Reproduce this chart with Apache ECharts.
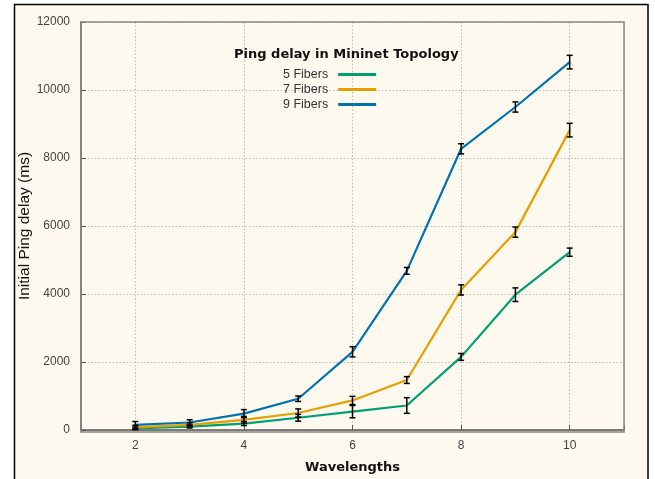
<!DOCTYPE html>
<html><head><meta charset="utf-8">
<script src="https://cdn.jsdelivr.net/npm/echarts@6/dist/echarts.min.js"></script>
<style>html,body{margin:0;padding:0;background:#fff}#c{width:655px;height:479px}</style>
</head><body><div id="c"></div>
<script>
const wavelengths = [2, 3, 4, 5, 6, 7, 8, 9, 10];
const fibers5 = [50, 100, 190, 360, 540, 720, 2150, 3980, 5230];
const fibers7 = [80, 150, 300, 500, 870, 1470, 4120, 5820, 8820];
const fibers9 = [150, 220, 480, 920, 2300, 4680, 8270, 9500, 10820];
const err5 = [40, 40, 60, 100, 180, 230, 100, 200, 120];
const err7 = [60, 60, 100, 120, 120, 100, 150, 150, 200];
const err9 = [100, 80, 120, 80, 150, 100, 150, 150, 200];
const seriesNames = ['5 Fibers', '7 Fibers', '9 Fibers'];
const colors = ['#009e73', '#e69f00', '#0072b2'];

const chart = echarts.init(document.getElementById('c'), null, {renderer: 'canvas'});

function pairs(vals) { return wavelengths.map((w, i) => [w, vals[i]]); }
function errData(vals, errs) { return wavelengths.map((w, i) => [w, vals[i] - errs[i], vals[i] + errs[i]]); }

function errRender(params, api) {
  const lo = api.coord([api.value(0), api.value(1)]);
  const hi = api.coord([api.value(0), api.value(2)]);
  const w = 3;
  const st = {stroke: '#000', lineWidth: 1.5};
  return {type: 'group', children: [
    {type: 'line', shape: {x1: lo[0], y1: lo[1], x2: hi[0], y2: hi[1]}, style: st},
    {type: 'line', shape: {x1: lo[0] - w, y1: lo[1], x2: lo[0] + w, y2: lo[1]}, style: st},
    {type: 'line', shape: {x1: hi[0] - w, y1: hi[1], x2: hi[0] + w, y2: hi[1]}, style: st}
  ]};
}

const valsList = [fibers5, fibers7, fibers9];
const errList = [err5, err7, err9];
const series = [];
valsList.forEach((v, i) => {
  series.push({name: seriesNames[i], type: 'line', data: pairs(v), showSymbol: false, symbol: 'none',
    lineStyle: {color: colors[i], width: 2.2}, itemStyle: {color: colors[i]}, z: 3 + i});
});
valsList.forEach((v, i) => {
  series.push({type: 'custom', renderItem: errRender, data: errData(v, errList[i]), z: 10,
    encode: {x: 0, y: [1, 2]}});
});

const option = {
  backgroundColor: '#fff',
  animation: false,
  graphic: [
    {type: 'rect', shape: {x: 14.5, y: 4.5, width: 633.5, height: 480}, style: {fill: '#fdf9ee', stroke: '#000', lineWidth: 1.5}, z: -10},
    {type: 'rect', shape: {x: 81, y: 22, width: 543, height: 410}, style: {fill: 'none', stroke: '#888', lineWidth: 1.5}, z: 1}
  ],
  title: {text: 'Ping delay in Mininet Topology', left: 234, top: 48, padding: 0,
    textStyle: {fontFamily: 'DejaVu Sans', fontWeight: 'bold', fontSize: 13, color: '#111'}},
  legend: {orient: 'vertical', left: 283, top: 68, align: 'right', itemGap: 2, itemWidth: 38, itemHeight: 3,
    icon: 'rect', data: seriesNames, padding: 0,
    textStyle: {fontFamily: 'Liberation Sans', fontSize: 12.5, color: '#333', padding: [0, 5, 0, 0]}},
  grid: {left: 81, top: 22, right: 31, bottom: 47},
  xAxis: {type: 'value', min: 1, max: 11, splitNumber: 5,
    name: 'Wavelengths', nameLocation: 'middle', nameGap: 31,
    nameTextStyle: {fontFamily: 'DejaVu Sans', fontWeight: 'bold', fontSize: 13, color: '#111'},
    axisLine: {show: true, lineStyle: {color: '#555', width: 1.5}},
    axisTick: {show: true, inside: true, length: 5, lineStyle: {color: '#555'}},
    axisLabel: {fontFamily: 'Liberation Sans', fontSize: 12, color: '#444', margin: 10,
      formatter: v => (v % 2 === 0 ? String(v) : '')},
    splitLine: {show: true, lineStyle: {color: '#bbb', type: [1.5, 2], width: 1}}},
  yAxis: {type: 'value', min: 0, max: 12000, interval: 2000,
    name: 'Initial Ping delay (ms)', nameLocation: 'middle', nameGap: 48, nameMoveOverlap: false,
    nameTextStyle: {fontFamily: 'Liberation Sans', fontSize: 15.5, color: '#111'},
    axisLine: {show: true, lineStyle: {color: '#555', width: 1.5}},
    axisTick: {show: true, inside: true, length: 5, lineStyle: {color: '#555'}},
    axisLabel: {fontFamily: 'Liberation Sans', fontSize: 12, color: '#444', margin: 11,
      formatter: v => String(v)},
    splitLine: {show: true, lineStyle: {color: '#bbb', type: [1.5, 2], width: 1}}},
  series: series
};
chart.setOption(option);
</script></body></html>
